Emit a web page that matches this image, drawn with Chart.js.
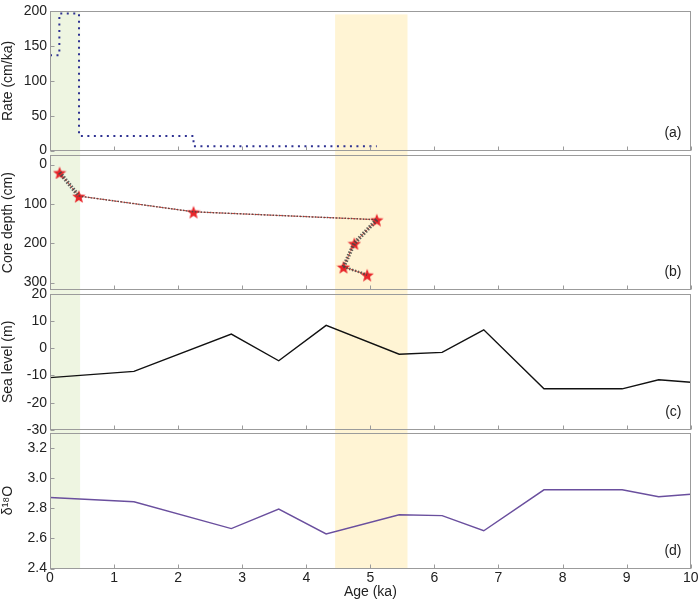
<!DOCTYPE html>
<html>
<head>
<meta charset="utf-8">
<title>Rate, core depth, sea level and d18O</title>
<script src="https://cdn.jsdelivr.net/npm/chart.js@4.4.1/dist/chart.umd.min.js"></script>
<style>
  html, body { margin: 0; padding: 0; background: #fff; }
  #wrap { width: 700px; height: 599px; position: relative; }
</style>
</head>
<body>
<div id="wrap"><canvas id="chart" width="700" height="599"></canvas></div>
<script>
// Age axis (ka)
var ageTicks = [0, 1, 2, 3, 4, 5, 6, 7, 8, 9, 10];

// Shaded age intervals (ka)
var bandFrom = [0, 4.45];
var bandTo = [0.47, 5.58];

// (a) sedimentation rate, step edges
var rateAge = [0, 0.146, 0.453, 2.24, 5.1];
var rateValue = [137, 197, 21, 6, 6];
var rateTicks = [0, 50, 100, 150, 200];

// (b) dated samples
var datedAge = [0.15, 0.45, 2.24, 5.1, 4.75, 4.58, 4.95];
var datedDepth = [20, 80, 120, 140, 200, 260, 280];
var depthTicks = [0, 100, 200, 300];

// (c) sea level and (d) d18O
var climateAge = [0, 1.31, 2.83, 3.57, 4.31, 5.45, 6.12, 6.77, 7.71, 8.93, 9.5, 10];
var seaLevel = [-10.8, -8.5, 5.2, -4.6, 8.4, -2.2, -1.5, 6.8, -14.9, -14.9, -11.6, -12.5];
var seaTicks = [-30, -20, -10, 0, 10, 20];
var delta18O = [2.87, 2.842, 2.664, 2.793, 2.629, 2.756, 2.75, 2.65, 2.921, 2.921, 2.875, 2.892];
var deltaTicks = [2.4, 2.6, 2.8, 3.0, 3.2];

var panelLabels = ["(a)", "(b)", "(c)", "(d)"];
var panelAxes = ["yA", "yB", "yC", "yD"];

// styles
var bandColors = ["rgba(236, 244, 222, 0.9)", "rgba(255, 242, 204, 0.85)"];
var bandInset = [0, 3];
var hatchWidth = [4, 1.5, 1.5, 4, 4, 2.5];

Chart.defaults.font.family = "'Liberation Sans', Arial, sans-serif";
Chart.defaults.font.size = 14;
Chart.defaults.color = "#222";

function pairs(xs, ys) {
  return xs.map(function (v, i) {
    return { x: v, y: ys[i] };
  });
}

function fixedTicks(list) {
  return function (scale) {
    scale.ticks = list.map(function (v) {
      return { value: v };
    });
  };
}

// filled five-point star for the dated samples
function makeStar(size, color) {
  var c = document.createElement("canvas");
  c.width = size;
  c.height = size;
  var g = c.getContext("2d");
  var R = size / 2, r = R * 0.42;
  g.beginPath();
  for (var i = 0; i < 10; i++) {
    var ang = -Math.PI / 2 + (i * Math.PI) / 5;
    var rad = i % 2 === 0 ? R : r;
    g.lineTo(R + rad * Math.cos(ang), R + 1 + rad * Math.sin(ang));
  }
  g.closePath();
  g.fillStyle = color;
  g.fill();
  return c;
}
var star = makeStar(14, "#e8262a");

function panelAxis(weight, stackWeight, min, max, ticks, title, extra) {
  var axis = {
    type: "linear",
    position: "left",
    stack: "panels",
    stackWeight: stackWeight,
    weight: weight,
    min: min,
    max: max,
    afterBuildTicks: fixedTicks(ticks),
    afterFit: function (s) { s.width = 50; },
    grid: { display: false, drawTicks: false },
    border: { display: false },
    ticks: { padding: 3, color: "#222", autoSkip: false },
    title: { display: true, text: title, padding: 0, color: "#222" },
  };
  for (var k in extra) axis[k] = extra[k];
  return axis;
}

function spacer(weight, stackWeight) {
  return {
    type: "linear",
    position: "left",
    stack: "panels",
    stackWeight: stackWeight,
    weight: weight,
    afterFit: function (s) { s.width = 50; },
    grid: { display: false, drawTicks: false },
    border: { display: false },
    ticks: { display: false },
  };
}

// Bands, panel frames, inward ticks and panel letters
var panelPlugin = {
  id: "panels",
  beforeDatasetsDraw: function (chart) {
    var ctx = chart.ctx, area = chart.chartArea, x = chart.scales.x;
    ctx.save();
    for (var i = 0; i < bandFrom.length; i++) {
      var x0 = x.getPixelForValue(bandFrom[i]);
      var x1 = x.getPixelForValue(bandTo[i]);
      ctx.fillStyle = bandColors[i];
      ctx.fillRect(x0, area.top + bandInset[i], x1 - x0, area.bottom - area.top - bandInset[i]);
    }
    ctx.restore();
  },
  afterDatasetsDraw: function (chart) {
    var ctx = chart.ctx, area = chart.chartArea, x = chart.scales.x;
    ctx.save();
    ctx.strokeStyle = "#9b9b9b";
    ctx.lineWidth = 1;
    panelAxes.forEach(function (id, i) {
      var s = chart.scales[id];
      var top = Math.round(s.top) + 0.5, bottom = Math.round(s.bottom) - 0.5;
      var left = Math.round(area.left) + 0.5, right = Math.round(area.right) - 0.5;
      ctx.strokeRect(left, top, right - left, bottom - top);

      ctx.beginPath();
      s.ticks.forEach(function (t) {
        var y = Math.round(s.getPixelForValue(t.value)) + 0.5;
        ctx.moveTo(left, y);
        ctx.lineTo(left + 4, y);
      });
      x.ticks.forEach(function (t) {
        var px = Math.round(x.getPixelForValue(t.value)) + 0.5;
        ctx.moveTo(px, bottom);
        ctx.lineTo(px, bottom - 4);
      });
      ctx.stroke();

      ctx.fillStyle = "#222";
      ctx.font = "14px 'Liberation Sans', Arial, sans-serif";
      ctx.textAlign = "right";
      ctx.textBaseline = "middle";
      ctx.fillText(panelLabels[i], right - 9, bottom - 17);
    });
    ctx.restore();
  },
};

var ctx = document.getElementById("chart").getContext("2d");
var chart = new Chart(ctx, {
  type: "line",
  data: {
    datasets: [
      {
        label: "Rate",
        data: pairs(rateAge, rateValue),
        yAxisID: "yA",
        stepped: "before",
        borderColor: "#2e3192",
        borderWidth: 2,
        borderDash: [2, 4.5],
        pointRadius: 0,
      },
      {
        label: "Uncertainty",
        data: pairs(datedAge, datedDepth),
        yAxisID: "yB",
        borderColor: "rgba(70, 70, 70, 0.85)",
        borderDash: [1.5, 1.5],
        pointRadius: 0,
        segment: {
          borderWidth: function (c) { return hatchWidth[c.p0DataIndex]; },
        },
      },
      {
        label: "Core depth",
        data: pairs(datedAge, datedDepth),
        yAxisID: "yB",
        borderColor: "#e0453a",
        borderWidth: 1,
        borderDash: [3, 1],
        pointStyle: star,
        pointRadius: 7,
        clip: false,
      },
      {
        label: "Sea level",
        data: pairs(climateAge, seaLevel),
        yAxisID: "yC",
        borderColor: "#111",
        borderWidth: 1.4,
        pointRadius: 0,
      },
      {
        label: "d18O",
        data: pairs(climateAge, delta18O),
        yAxisID: "yD",
        borderColor: "#6a4f9e",
        borderWidth: 1.4,
        pointRadius: 0,
      },
    ],
  },
  options: {
    responsive: false,
    animation: false,
    layout: { padding: { top: 5, right: 9.3, bottom: 0, left: 0 } },
    plugins: {
      legend: { display: false },
      tooltip: { enabled: false },
    },
    elements: { line: { tension: 0 } },
    scales: {
      x: {
        type: "linear",
        position: "bottom",
        min: 0,
        max: 10,
        afterBuildTicks: fixedTicks(ageTicks),
        afterFit: function (s) { s.height = 30.5; },
        grid: { display: false, drawTicks: false },
        border: { display: false },
        ticks: { padding: 1, color: "#222", autoSkip: false, maxRotation: 0 },
        title: { display: true, text: "Age (ka)", padding: 0, color: "#222", font: { lineHeight: 1 } },
      },
      yA: panelAxis(7, 140.7, 0, 200, rateTicks, "Rate (cm/ka)", {}),
      g1: spacer(6, 4.3),
      yB: panelAxis(5, 137.3, -25, 320, depthTicks, "Core depth (cm)", { reverse: true }),
      g2: spacer(4, 3.4),
      yC: panelAxis(3, 137.6, -30, 20, seaTicks, "Sea level (m)", {}),
      g3: spacer(2, 2.7),
      yD: panelAxis(1, 137.5, 2.4, 3.3, deltaTicks, "δ¹⁸O", {
        ticks: {
          padding: 3,
          color: "#222",
          autoSkip: false,
          callback: function (v) { return Number(v).toFixed(1); },
        },
      }),
    },
  },
  plugins: [panelPlugin],
});
</script>
</body>
</html>
